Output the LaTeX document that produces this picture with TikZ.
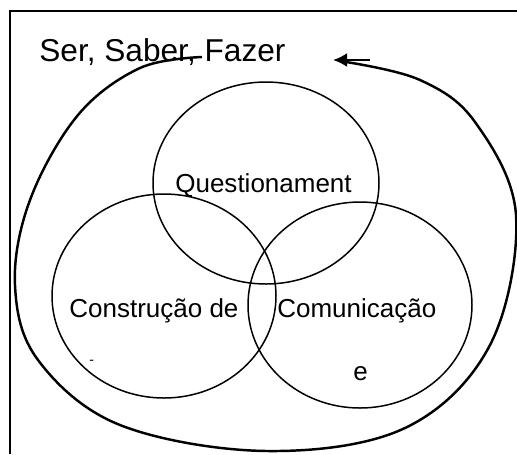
\documentclass[tikz,border=0pt]{standalone}
\usepackage{fontspec}
\setmainfont{Liberation Sans}
\usetikzlibrary{arrows.meta}

\tikzset{
  ring/.style={line width=0.85pt},
  cycleline/.style={line width=1.4pt},
  frameline/.style={line width=1.1pt},
  lbl/.style={font=\fontsize{14.8}{17}\selectfont, inner sep=0pt, anchor=base west},
}

\begin{document}
\begin{tikzpicture}[x=0.02cm,y=-0.02cm]
\useasboundingbox (0,0) rectangle (517,454);
%\draw (0,0) grid[step=50] (517,454);

\draw [frameline] (517,11) -- (10,11) -- (10,454);

\node [lbl, font=\fontsize{18}{21}\selectfont] (title) at (39,61) {Ser, Saber, Fazer};

% the three circles
\draw [ring] (266,183) ellipse (113 and 101);
\draw [ring] (164,296) ellipse (112 and 102);
\draw [ring] (360,305) ellipse (112 and 103);

\node [lbl] (quest) at (175,192) {Questionament};
\node [lbl] (constr) at (69,317) {Construção de};
\node [lbl] (comun) at (277,317) {Comunicação};
\node [lbl] (conj) at (353,380) {e};
\node [lbl, font=\fontsize{8}{9}\selectfont] (traco) at (89,364) {-};

% big cycle round everything
\coordinate (start) at (202,57);
\coordinate (tail) at (370,60);
\coordinate (head) at (333,60);
\draw [cycleline] plot[smooth, tension=0.6] coordinates {(start) (140,68) (78,115) (30,200) (15,285) (38,360) (120,425) (267,451) (405,428) (490,345) (516,215) (475,122) (420,80) (346,62)};
\draw [cycleline, -{Latex[length=8pt,width=8pt]}] (tail) -- (head);
\end{tikzpicture}
\end{document}
